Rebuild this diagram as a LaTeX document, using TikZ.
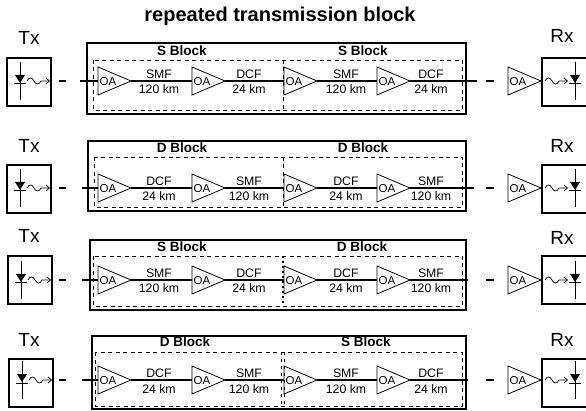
\documentclass[tikz,border=0pt]{standalone}
\usepackage{fontspec}
\setmainfont{Liberation Sans}
\usetikzlibrary{arrows.meta}
\tikzset{
  box/.style={draw, line width=1.25pt},
  dsh/.style={draw, line width=0.9pt, dash pattern=on 4pt off 3.5pt},
  fiber/.style={line width=2pt},
  oatri/.style={draw, line width=0.8pt},
  oatext/.style={font=\fontsize{11.5}{11.5}\selectfont, inner sep=0pt, anchor=base},
  lbl/.style={font=\fontsize{12.3}{12.3}\selectfont, inner sep=0pt, anchor=base},
  blklbl/.style={font=\bfseries\fontsize{13.5}{13.5}\selectfont, inner sep=0pt, anchor=base},
  trx/.style={font=\fontsize{19}{19}\selectfont, inner sep=0pt, anchor=base},
  ttl/.style={font=\bfseries\fontsize{20}{20}\selectfont, inner sep=0pt, anchor=base},
  wavy/.style={line width=0.7pt, -{Straight Barb[length=3.5pt,width=6pt]}},
}
\newcommand\OAmp[3]{%
  \draw[oatri] (#2,#3-14) -- (#2,#3+14) -- (#2+33,#3) -- cycle;
  \coordinate (#1i) at (#2,#3);
  \coordinate (#1o) at (#2+33,#3);
  \node[oatext] (#1t) at (#2+10,#3+4.2) {OA};
}
\newcommand\Diode[3]{%
  \coordinate (#1) at (#2,#3);
  \draw[line width=0.9pt] (#2,#3-19) -- (#2,#3+19);
  \fill (#2-5,#3-6) -- (#2+5,#3-6) -- (#2,#3+2) -- cycle;
  \draw[line width=1pt] (#2-6,#3+3) -- (#2+6,#3+3);
}
\newcommand\Wave[4]{%
  \coordinate (#1a) at (#2,#4);
  \coordinate (#1b) at (#3,#4);
  \draw[wavy] (#1a) .. controls +(2,-4) and +(-2,-4) .. ++(7,0)
     .. controls +(2,4) and +(-2,4) .. ++(7,0) -- (#1b);
}
\newcommand\DrawRow{%
  % transmitter
  \node[trx] (txl\rid) at (29,\txlab) {Tx};
  \draw[box] (\txl,\txt) rectangle (\txl+44,\txb);
  \Diode{txd\rid}{\txl+13}{\fy}
  \Wave{txw\rid}{\txl+20}{\txl+43}{\fy}
  \coordinate (lda\rid) at (59,\fy);
  \coordinate (ldb\rid) at (66,\fy);
  \draw[fiber] (lda\rid) -- (ldb\rid);
  % blocks
  \draw[box] (\sl,\st) rectangle (466,\sb);
  \draw[dsh] (\dl,\dt) rectangle (462,\db);
  \divider
  \node[blklbl] (bla\rid) at (\lxa,\lab) {\la};
  \node[blklbl] (blb\rid) at (\lxb,\lab) {\lb};
  \OAmp{a\rid1}{98}{\fy}
  \OAmp{a\rid2}{192}{\fy}
  \OAmp{a\rid3}{284}{\fy}
  \OAmp{a\rid4}{377}{\fy}
  \coordinate (fs\rid) at (\fs,\fy);
  \coordinate (fe\rid) at (\fe,\fy);
  \draw[fiber] (fs\rid) -- (a\rid1i) (a\rid1o) -- (a\rid2i) (a\rid2o) -- (a\rid3i)
     (a\rid3o) -- (a\rid4i) (a\rid4o) -- (fe\rid);
  \node[lbl] (ta\rid) at (159,\fy-2.5) {\ta};
  \node[lbl] (ua\rid) at (159,\fy+13) {\ua};
  \node[lbl] (tb\rid) at (249,\fy-2.5) {\tb};
  \node[lbl] (ub\rid) at (249,\fy+13) {\ub};
  \node[lbl] (tc\rid) at (346,\fy-2.5) {\tc};
  \node[lbl] (uc\rid) at (346,\fy+13) {\uc};
  \node[lbl] (td\rid) at (431,\fy-2.5) {\td};
  \node[lbl] (ud\rid) at (431,\fy+13) {\ud};
  % receiver
  \coordinate (rda\rid) at (486,\fy);
  \coordinate (rdb\rid) at (494,\fy);
  \draw[fiber] (rda\rid) -- (rdb\rid);
  \OAmp{ar\rid}{508}{\fy}
  \node[trx] (rxl\rid) at (562,\rxlab) {Rx};
  \draw[box] (594,\txt) -- (542,\txt) -- (542,\txb) -- (594,\txb);
  \Wave{rxw\rid}{545}{568}{\fy}
  \Diode{rxd\rid}{575}{\fy}
}
\begin{document}
\begin{tikzpicture}[x=1pt,y=-1pt]
\useasboundingbox (0,0) rectangle (586,411);
\node[ttl] (title) at (280,22) {repeated transmission block};

% row 1
\def\rid{1}\def\fy{81}\def\txl{7}\def\txt{58}\def\txb{106}\def\txlab{45}\def\rxlab{43}
\def\sl{87}\def\st{43}\def\sb{114}\def\dl{93}\def\dt{60}\def\db{110}\def\lab{56}
\def\lxa{182}\def\lxb{363}\def\la{S Block}\def\lb{S Block}
\def\fs{80}\def\fe{477}
\def\ta{SMF}\def\ua{120 km}\def\tb{DCF}\def\ub{24 km}
\def\tc{SMF}\def\uc{120 km}\def\td{DCF}\def\ud{24 km}
\def\divider{\draw[dsh] (283,\dt) -- (283,\db);}
\DrawRow

% row 2
\def\rid{2}\def\fy{188}\def\txl{7}\def\txt{165}\def\txb{213}\def\txlab{153}\def\rxlab{153}
\def\sl{88}\def\st{141}\def\sb{211}\def\dl{94}\def\dt{157}\def\db{207}\def\lab{153}
\def\lxa{182}\def\lxb{363}\def\la{D Block}\def\lb{D Block}
\def\fs{82}\def\fe{474}
\def\ta{DCF}\def\ua{24 km}\def\tb{SMF}\def\ub{120 km}
\def\tc{DCF}\def\uc{24 km}\def\td{SMF}\def\ud{120 km}
\def\divider{\draw[dsh] (283,\dt) -- (283,\db);}
\DrawRow

% row 3
\def\rid{3}\def\fy{280}\def\txl{8}\def\txt{256}\def\txb{304}\def\txlab{243}\def\rxlab{245}
\def\sl{90}\def\st{240}\def\sb{310}\def\dl{93}\def\dt{256}\def\db{306}\def\lab{252}
\def\lxa{182}\def\lxb{362}\def\la{S Block}\def\lb{D Block}
\def\fs{82}\def\fe{468}
\def\ta{SMF}\def\ua{120 km}\def\tb{DCF}\def\ub{24 km}
\def\tc{DCF}\def\uc{24 km}\def\td{SMF}\def\ud{120 km}
\def\divider{\draw[line width=1.5pt, dash pattern=on 2pt off 3pt] (283,\dt) -- (283,\db);}
\DrawRow

% row 4
\def\rid{4}\def\fy{380}\def\txl{9}\def\txt{359}\def\txb{407}\def\txlab{347}\def\rxlab{347}
\def\sl{92}\def\st{336}\def\sb{409}\def\dl{95}\def\dt{352}\def\db{406}\def\lab{347}
\def\lxa{185}\def\lxb{366}\def\la{D Block}\def\lb{S Block}
\def\fs{82}\def\fe{468}
\def\ta{DCF}\def\ua{24 km}\def\tb{SMF}\def\ub{120 km}
\def\tc{SMF}\def\uc{120 km}\def\td{DCF}\def\ud{24 km}
\def\divider{\draw[line width=0.7pt, dash pattern=on 3pt off 4pt] (281.8,\dt) -- (281.8,\db) (284.2,\dt) -- (284.2,\db);}
\DrawRow
\end{tikzpicture}
\end{document}
